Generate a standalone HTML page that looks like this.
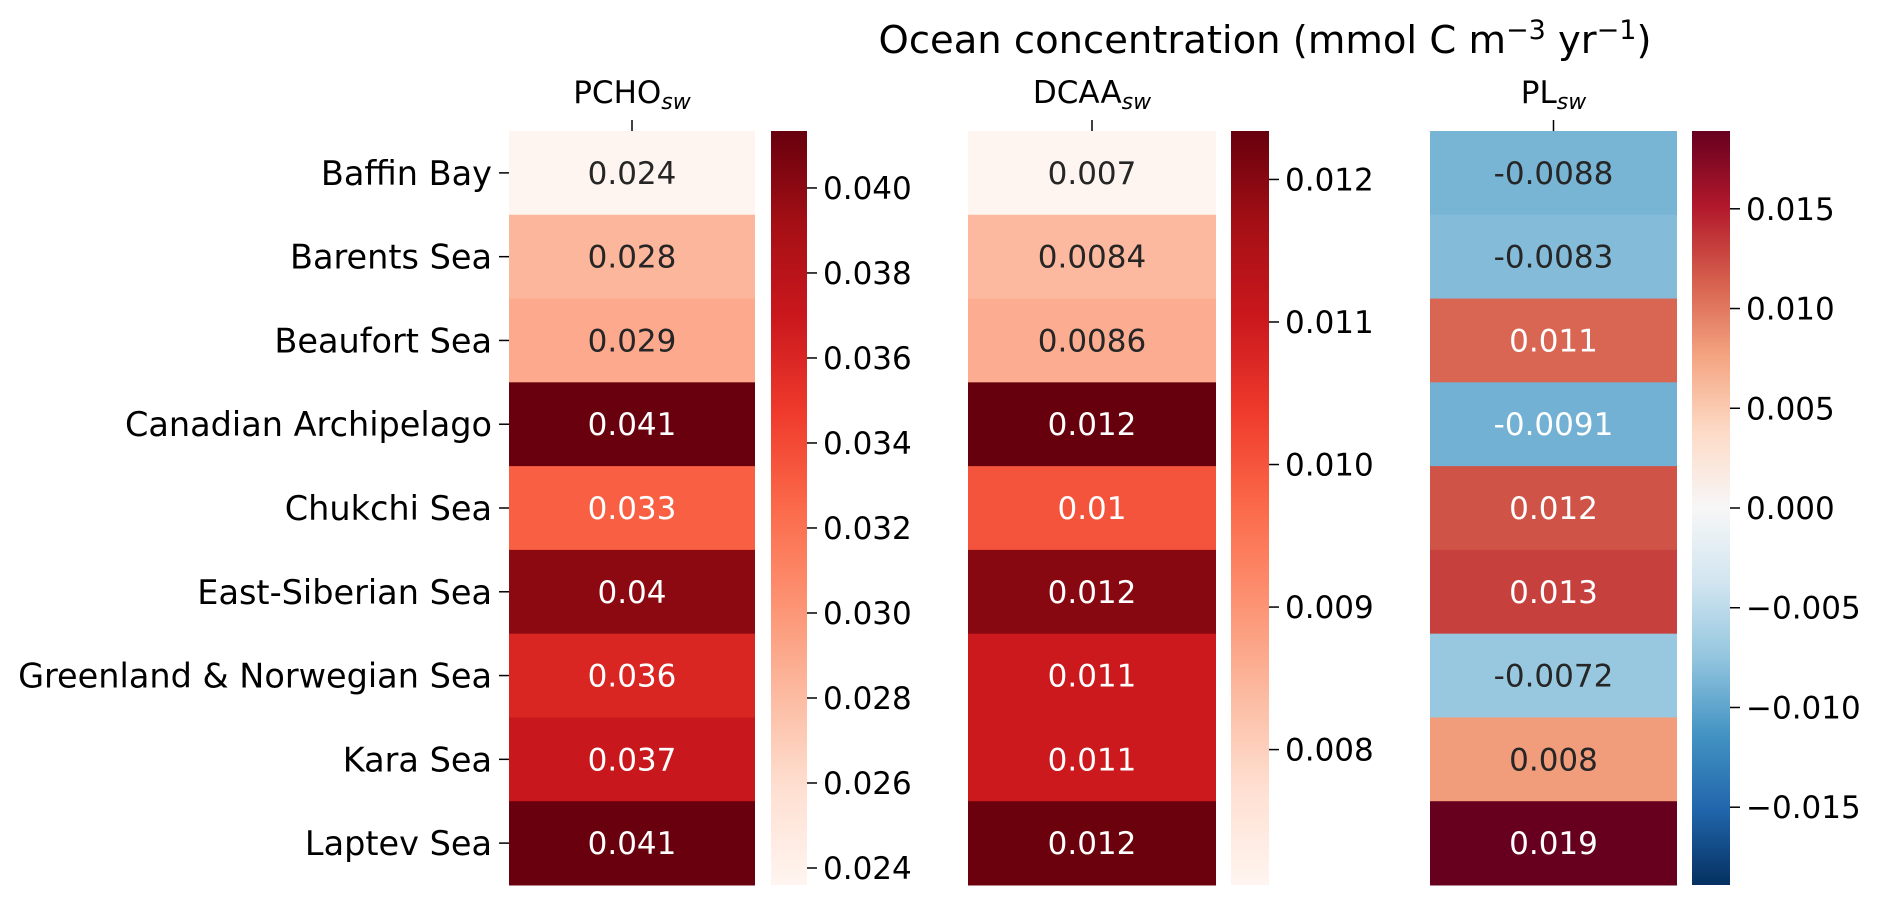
<!DOCTYPE html>
<html><head><meta charset="utf-8">
<style>
html,body{margin:0;padding:0;background:#fff;}
svg{display:block;font-family:"DejaVu Sans","Liberation Sans",sans-serif;}
</style></head>
<body>
<svg id="chart" width="1892" height="904" viewBox="0 0 1892 904" xmlns="http://www.w3.org/2000/svg">
<text x="1265" y="53" font-size="38.5" text-anchor="middle" fill="#000">Ocean concentration (mmol C m<tspan dy="-14" font-size="27">−3</tspan><tspan dy="14"> yr</tspan><tspan dy="-14" font-size="27">−1</tspan><tspan dy="14">)</tspan></text>
</svg>
<script>
const regions = ["Baffin Bay","Barents Sea","Beaufort Sea","Canadian Archipelago","Chukchi Sea","East-Siberian Sea","Greenland & Norwegian Sea","Kara Sea","Laptev Sea"];
const pchoValues = [0.0236,0.0283,0.0290,0.0413,0.0330,0.0400,0.0360,0.0370,0.0413];
const pchoLabels = ["0.024","0.028","0.029","0.041","0.033","0.04","0.036","0.037","0.041"];
const dcaaValues = [0.00705,0.0084,0.0086,0.01234,0.0100,0.0120,0.0110,0.0110,0.0123];
const dcaaLabels = ["0.007","0.0084","0.0086","0.012","0.01","0.012","0.011","0.011","0.012"];
const plValues = [-0.0088,-0.0083,0.011,-0.0091,0.012,0.013,-0.0072,0.008,0.0189];
const plLabels = ["-0.0088","-0.0083","0.011","-0.0091","0.012","0.013","-0.0072","0.008","0.019"];
const pchoTicks = [0.024,0.026,0.028,0.030,0.032,0.034,0.036,0.038,0.040];
const pchoTickLabels = ["0.024","0.026","0.028","0.030","0.032","0.034","0.036","0.038","0.040"];
const dcaaTicks = [0.008,0.009,0.010,0.011,0.012];
const dcaaTickLabels = ["0.008","0.009","0.010","0.011","0.012"];
const plTicks = [-0.015,-0.010,-0.005,0,0.005,0.010,0.015];
const plTickLabels = ["−0.015","−0.010","−0.005","0.000","0.005","0.010","0.015"];

const REDS=["#fff5f0","#fee0d2","#fcbba1","#fc9272","#fb6a4a","#ef3b2c","#cb181d","#a50f15","#67000d"];
const RDBU=["#053061","#2166ac","#4393c3","#92c5de","#d1e5f0","#f7f7f7","#fddbc7","#f4a582","#d6604d","#b2182b","#67001f"];
function hex(h){return [1,3,5].map(i=>parseInt(h.substr(i,2),16));}
function cmap(stops,t){t=Math.max(0,Math.min(1,t));const n=stops.length-1;const f=t*n;const i=Math.min(n-1,Math.floor(f));const u=f-i;const a=hex(stops[i]),b=hex(stops[i+1]);return a.map((v,k)=>Math.round(v+(b[k]-v)*u));}
function rgb(c){return "rgb("+c.join(",")+")";}
function lum(c){const l=c.map(v=>{v/=255;return v<=0.03928?v/12.92:Math.pow((v+0.055)/1.055,2.4);});return 0.2126*l[0]+0.7152*l[1]+0.0722*l[2];}

const svg=document.getElementById("chart");
const NS="http://www.w3.org/2000/svg";
function el(tag,attrs,parent){const e=document.createElementNS(NS,tag);for(const k in attrs)e.setAttribute(k,attrs[k]);(parent||svg).appendChild(e);return e;}

const TOP=131,BOTTOM=885,ROWH=(BOTTOM-TOP)/regions.length;
function yRow(i){return TOP+i*ROWH;}

regions.forEach((r,i)=>{
  const cy=yRow(i)+ROWH/2;
  const t=el("text",{x:492,y:cy+12,"font-size":"33.5","text-anchor":"end",fill:"#000"});
  t.textContent=r;
  
  
  const tk=el("line",{x1:499,x2:509,y1:cy,y2:cy,stroke:"#000","stroke-width":"1.5"});
  
  
});

const panels=[
 {name:"pcho",label:"PCHO",vals:pchoValues,labels:pchoLabels,ticks:pchoTicks,tl:pchoTickLabels,x0:509,x1:755,cb0:771,cb1:807,vmin:0.0236,vmax:0.04134,stops:REDS},
 {name:"dcaa",label:"DCAA",vals:dcaaValues,labels:dcaaLabels,ticks:dcaaTicks,tl:dcaaTickLabels,x0:968,x1:1216,cb0:1231,cb1:1269,vmin:0.00705,vmax:0.01234,stops:REDS},
 {name:"pl",label:"PL",vals:plValues,labels:plLabels,ticks:plTicks,tl:plTickLabels,x0:1430,x1:1677,cb0:1692,cb1:1730,vmin:-0.0189,vmax:0.0189,stops:RDBU}
];

panels.forEach(p=>{
  const g=el("g",{});
  
  
  const cx=(p.x0+p.x1)/2;
  const title=el("text",{x:cx,y:103,"font-size":"31","text-anchor":"middle",fill:"#000"},g);
  title.innerHTML=p.label+'<tspan font-size="22" font-style="italic" dy="6">sw</tspan>';
  
  
  const ct=el("line",{x1:cx,x2:cx,y1:120,y2:131,stroke:"#000","stroke-width":"1.5"},g);
  
  
  p.vals.forEach((v,i)=>{
    const c=cmap(p.stops,(v-p.vmin)/(p.vmax-p.vmin));
    const r=el("rect",{x:p.x0,y:yRow(i),width:p.x1-p.x0,height:ROWH+0.5,fill:rgb(c)},g);
    
    
    const t=el("text",{x:cx,y:yRow(i)+ROWH/2+11,"font-size":"31","text-anchor":"middle",fill:lum(c)>0.408?"#262626":"#ffffff"},g);
    t.textContent=p.labels[i];
    
    
  });
  const gid="grad-"+p.name;
  const defs=el("defs",{},g);
  const lg=el("linearGradient",{id:gid,x1:"0",y1:"1",x2:"0",y2:"0"},defs);
  p.stops.forEach((s,k)=>el("stop",{offset:(k/(p.stops.length-1)),"stop-color":s},lg));
  const cb=el("rect",{x:p.cb0,y:TOP,width:p.cb1-p.cb0,height:BOTTOM-TOP,fill:"url(#"+gid+")"},g);
  
  
  p.ticks.forEach((tv,k)=>{
    const y=BOTTOM-(tv-p.vmin)/(p.vmax-p.vmin)*(BOTTOM-TOP);
    if(y<TOP-1||y>BOTTOM+1)return;
    const l=el("line",{x1:p.cb1,x2:p.cb1+10,y1:y,y2:y,stroke:"#000","stroke-width":"1.5"},g);
    
    
    const t=el("text",{x:p.cb1+16,y:y+11,"font-size":"31",fill:"#000"},g);
    t.textContent=p.tl[k];
    
    
  });
});
</script>
</body></html>
